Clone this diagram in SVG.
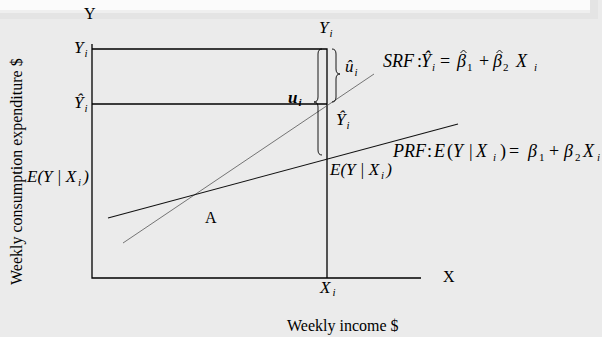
<svg xmlns="http://www.w3.org/2000/svg" width="602" height="337" viewBox="0 0 602 337">
<defs>
<style>
.t{font-family:"Liberation Serif","Times New Roman",serif;fill:#000;font-size:16px}
.m{font-family:"Liberation Serif","Times New Roman",serif;fill:#000;font-size:17px;font-style:italic}
.eq{font-family:"Liberation Serif","Times New Roman",serif;fill:#000;font-size:18px}
.it{font-style:italic}
.sub{font-size:11px;font-style:italic}
.num{font-size:11px;font-style:normal}
.ax{stroke:#000;stroke-width:1.3;fill:none}
.br{stroke:#000;stroke-width:0.9;fill:none}
.hat{stroke:#000;stroke-width:0.9;fill:none}
</style>
</defs>
<g id="background">
<rect x="0" y="0" width="602" height="337" fill="#ebebeb"/>
<rect x="0" y="0" width="598" height="19" fill="#e4e4e4"/>
<rect x="0" y="0" width="590" height="10" fill="#fbfbfb"/>
<rect x="0" y="10" width="590" height="3" fill="#efefef"/>
</g>
<g id="axes">
<path class="ax" d="M92,44 L92,278 L421,278"/>
<path class="ax" d="M92,49 L327,49 L327,278"/>
<path class="ax" d="M92,104 L327,104"/>
</g>
<g id="connectors">
<line id="srf-line" x1="123" y1="243" x2="374" y2="74" stroke="#555" stroke-width="0.8"/>
<line id="prf-line" x1="108" y1="218" x2="458" y2="124" stroke="#111" stroke-width="1.1"/>
<path id="brace-left" class="br" d="M322,49 Q318,49 318,54 L318,97 Q318,102 314,102 Q318,102 318,107 L318,150 Q318,155 322,155"/>
<path id="brace-right" class="br" d="M332,49 Q336,49 336,54 L336,69 Q336,74 340,74 Q336,74 336,79 L336,97 Q336,102 332,102"/>
</g>
<g id="labels">
<text class="t" x="84" y="19">Y</text>
<text class="t" x="443" y="282">X</text>
<text class="t" x="205" y="223">A</text>
<text class="t" x="287" y="331">Weekly income $</text>
<text class="t" transform="translate(22,285) rotate(-90)">Weekly consumption expenditure $</text>
<text class="m" x="74" y="53">Y<tspan class="sub" dx="1" dy="4">i</tspan></text>
<text class="m" x="74" y="108">Ŷ<tspan class="sub" dx="1" dy="4">i</tspan></text>
<text class="m" x="319" y="33">Y<tspan class="sub" dx="1" dy="4">i</tspan></text>
<text class="m" x="345" y="72">û<tspan class="sub" dx="1" dy="4">i</tspan></text>
<text class="m" x="288" y="103" font-weight="bold">u<tspan class="sub" dx="1" dy="3">i</tspan></text>
<text class="m" x="336" y="125">Ŷ<tspan class="sub" dx="1" dy="4">i</tspan></text>
<text class="m" x="320" y="293">X<tspan class="sub" dx="2" dy="3">i</tspan></text>
<text class="m" x="27" y="182">E(Y | X<tspan class="sub" dx="2" dy="4">i</tspan><tspan dx="2" dy="-4">)</tspan></text>
<text class="m" x="330" y="175">E(Y | X<tspan class="sub" dx="2" dy="4">i</tspan><tspan dx="2" dy="-4">)</tspan></text>
</g>
<g id="srf-equation">
<text class="eq" y="67"><tspan class="it" x="383">SRF</tspan><tspan x="417">:</tspan><tspan class="it" x="421">Ŷ</tspan><tspan class="sub" x="432" y="71">i</tspan><tspan x="440" y="67">=</tspan><tspan class="it" x="457">β</tspan><tspan class="num" x="467" y="71">1</tspan><tspan x="479" y="67">+</tspan><tspan class="it" x="493">β</tspan><tspan class="num" x="503" y="71">2</tspan><tspan class="it" x="516" y="67">X</tspan><tspan class="sub" x="534" y="71">i</tspan></text>
<path class="hat" d="M460.5,53 L463.5,50 L466.5,53"/>
<path class="hat" d="M496.5,53 L499.5,50 L502.5,53"/>
</g>
<g id="prf-equation">
<text class="eq" y="157"><tspan class="it" x="393">PRF</tspan><tspan x="427">:</tspan><tspan class="it" x="434">E</tspan><tspan x="447">(</tspan><tspan class="it" x="453">Y</tspan><tspan x="469">|</tspan><tspan class="it" x="476">X</tspan><tspan class="sub" x="493" y="161">i</tspan><tspan x="500" y="157">)</tspan><tspan x="509">=</tspan><tspan class="it" x="528">β</tspan><tspan class="num" x="539" y="161">1</tspan><tspan x="549" y="157">+</tspan><tspan class="it" x="564">β</tspan><tspan class="num" x="575" y="161">2</tspan><tspan class="it" x="583" y="157">X</tspan><tspan class="sub" x="597" y="161">i</tspan></text>
</g>
</svg>
